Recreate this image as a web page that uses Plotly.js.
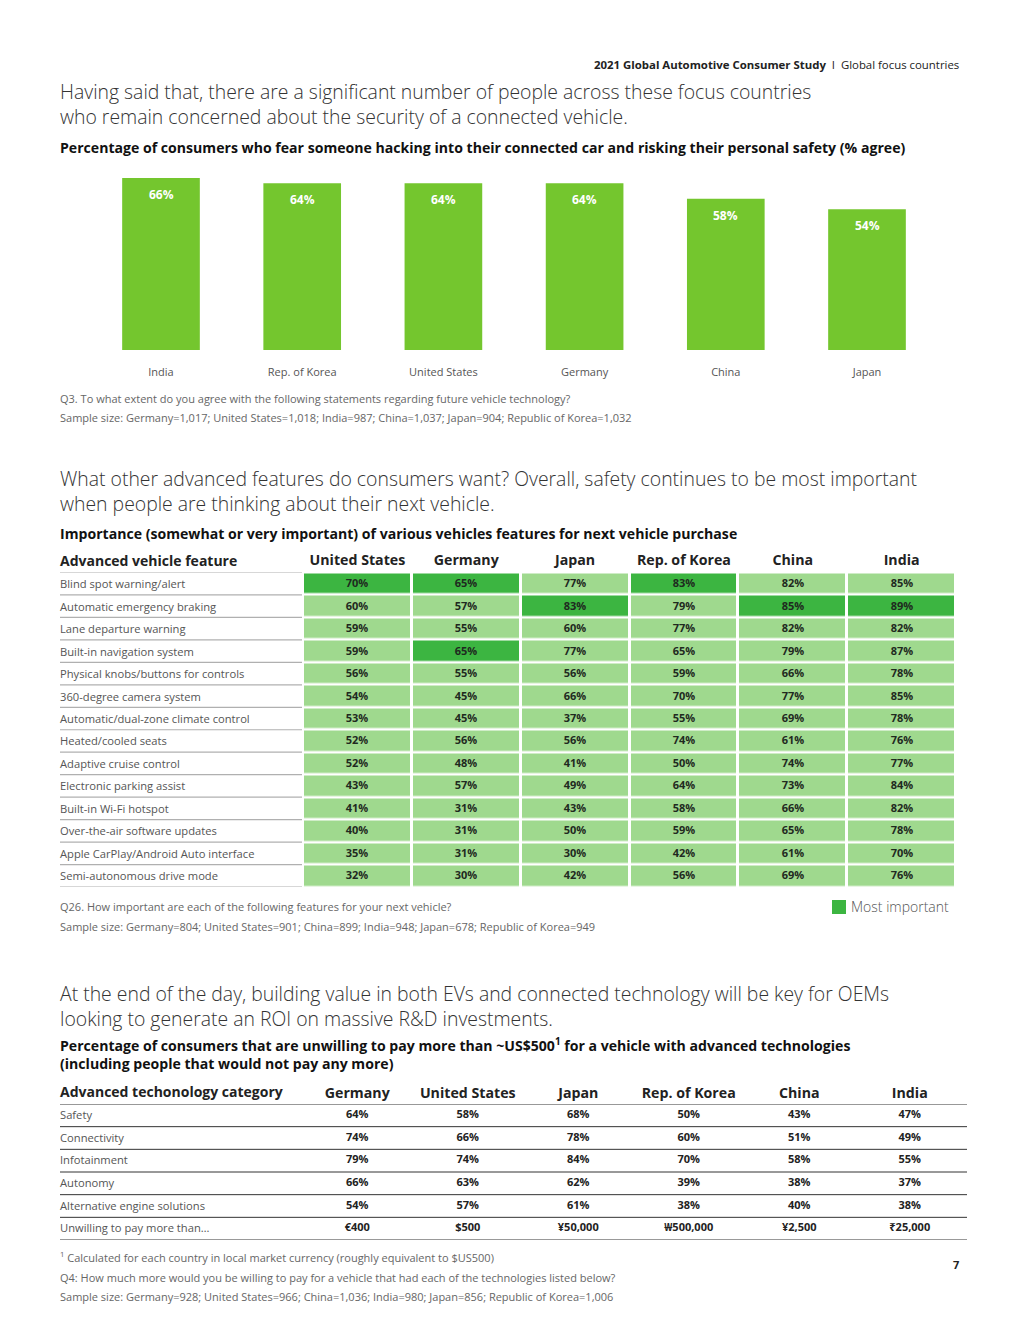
<!DOCTYPE html>
<html>
<head>
<meta charset="utf-8">
<script src="https://cdn.plot.ly/plotly-3.0.1.min.js"></script>
<style>
html,body{margin:0;padding:0;background:#fff;}
#chart{width:1020px;height:1320px;}
</style>
</head>
<body>
<div id="chart"></div>
<script>
// ---------- DATA ----------
// Chart 1: fear of hacking (% agree)
const barCountries = ["India", "Rep. of Korea", "United States", "Germany", "China", "Japan"];
const barValues = [66, 64, 64, 64, 58, 54];

// Chart 2: importance of features
const featureCountries = ["United States", "Germany", "Japan", "Rep. of Korea", "China", "India"];
const features = [
  "Blind spot warning/alert",
  "Automatic emergency braking",
  "Lane departure warning",
  "Built-in navigation system",
  "Physical knobs/buttons for controls",
  "360-degree camera system",
  "Automatic/dual-zone climate control",
  "Heated/cooled seats",
  "Adaptive cruise control",
  "Electronic parking assist",
  "Built-in Wi-Fi hotspot",
  "Over-the-air software updates",
  "Apple CarPlay/Android Auto interface",
  "Semi-autonomous drive mode"
];
const featUS      = [70, 60, 59, 59, 56, 54, 53, 52, 52, 43, 41, 40, 35, 32];
const featGermany = [65, 57, 55, 65, 55, 45, 45, 56, 48, 57, 31, 31, 31, 30];
const featJapan   = [77, 83, 60, 77, 56, 66, 37, 56, 41, 49, 43, 50, 30, 42];
const featKorea   = [83, 79, 77, 65, 59, 70, 55, 74, 50, 64, 58, 59, 42, 56];
const featChina   = [82, 85, 82, 79, 66, 77, 69, 61, 74, 73, 66, 65, 61, 69];
const featIndia   = [85, 89, 82, 87, 78, 85, 78, 76, 77, 84, 82, 78, 70, 76];

// Chart 3: unwilling to pay more than ~US$500
const payCountries = ["Germany", "United States", "Japan", "Rep. of Korea", "China", "India"];
const payCategories = ["Safety", "Connectivity", "Infotainment", "Autonomy", "Alternative engine solutions", "Unwilling to pay more than…"];
const payGermany = [64, 74, 79, 66, 54];
const payUS      = [58, 66, 74, 63, 57];
const payJapan   = [68, 78, 84, 62, 61];
const payKorea   = [50, 60, 70, 39, 38];
const payChina   = [43, 51, 58, 38, 40];
const payIndia   = [47, 49, 55, 37, 38];
const payThresholds = ["€400", "$500", "¥50,000", "₩500,000", "¥2,500", "₹25,000"];

// ---------- STYLE ----------
const FONT = "Open Sans, Noto Sans, sans-serif";
const W = 1020, H = 1320;
const px = v => v / W;
const py = v => 1 - v / H;
const BAR_GREEN = "#74c62e";
const LIGHT_GREEN = "#9fd98e";
const DARK_GREEN = "#3cb541";

const traces = [];
const annotations = [];
const shapes = [];

// ---------- Chart 1: bars ----------
traces.push({
  type: "bar",
  x: barCountries,
  y: barValues,
  xaxis: "x", yaxis: "y",
  marker: {color: BAR_GREEN},
  hoverinfo: "skip",
  showlegend: false
});
barCountries.forEach((c, i) => {
  annotations.push({
    xref: "x", yref: "y", x: c, y: barValues[i],
    text: barValues[i] + "%", showarrow: false,
    yanchor: "top", yshift: -6,
    font: {family: FONT, size: 12, color: "#ffffff", weight: "bold"}
  });
});

// ---------- Chart 2: heatmap table ----------
const featCols = [featUS, featGermany, featJapan, featKorea, featChina, featIndia];
const colMax = featCols.map(col => Math.max(...col));
const zMat = features.map((f, r) => featCols.map((col, c) => col[r] === colMax[c] ? 1 : 0));
const tMat = features.map((f, r) => featCols.map(col => col[r] + "%"));
traces.push({
  type: "heatmap",
  x: featureCountries,
  y: features,
  z: zMat,
  text: tMat,
  texttemplate: "%{text}",
  textfont: {family: FONT, size: 11, color: "#1f2a1f", weight: "bold"},
  colorscale: [[0, LIGHT_GREEN], [1, DARK_GREEN]],
  zmin: 0, zmax: 1,
  showscale: false,
  xgap: 3, ygap: 2.5,
  xaxis: "x2", yaxis: "y2",
  hoverinfo: "skip"
});
features.forEach((f, i) => {
  annotations.push({
    xref: "paper", yref: "y2", x: px(60), y: f, xshift: -2,
    text: f, showarrow: false, xanchor: "left",
    font: {family: FONT, size: 11.2, color: "#555555"}
  });
});
for (let i = 0; i <= features.length; i++) {
  shapes.push({
    type: "line", xref: "paper", yref: "y2",
    x0: px(60), x1: px(302), y0: i - 0.5, y1: i - 0.5,
    line: {color: "#b0b0b0", width: 1.2}
  });
}

// ---------- Chart 3: text table ----------
const payCols = [payGermany, payUS, payJapan, payKorea, payChina, payIndia];
const tx = [], ty = [], tt = [];
payCountries.forEach((c, ci) => {
  payCategories.forEach((cat, ri) => {
    tx.push(c); ty.push(cat);
    tt.push(ri < payCols[ci].length ? payCols[ci][ri] + "%" : payThresholds[ci]);
  });
});
traces.push({
  type: "scatter", mode: "text",
  x: tx, y: ty, text: tt,
  textposition: "middle center",
  textfont: {family: FONT, size: 11, color: "#222222", weight: "bold"},
  xaxis: "x3", yaxis: "y3",
  hoverinfo: "skip", showlegend: false
});
payCategories.forEach(cat => {
  annotations.push({
    xref: "paper", yref: "y3", x: px(60), y: cat, xshift: -2, yshift: 1,
    text: cat, showarrow: false, xanchor: "left",
    font: {family: FONT, size: 11.2, color: "#555555"}
  });
});
for (let i = 0; i <= payCategories.length; i++) {
  shapes.push({
    type: "line", xref: "paper", yref: "y3",
    x0: px(60), x1: px(967), y0: i - 0.5, y1: i - 0.5,
    line: {color: "#333333", width: 1}
  });
}

// ---------- Page texts ----------
function txt(x, y, text, size, color, opts) {
  annotations.push(Object.assign({
    xref: "paper", yref: "paper", x: px(x), y: py(y), xshift: -2,
    text: text, showarrow: false, xanchor: "left", yanchor: "middle", align: "left",
    font: {family: FONT, size: size, color: color}
  }, opts || {}));
}
const HEAD = {family: FONT, size: 19.4, color: "#333333", weight: 300};
txt(959, 65, "<b>2021 Global Automotive Consumer Study</b>  I  Global focus countries", 11.4, "#222222", {xanchor: "right", xshift: 2});

txt(60, 104.5, "Having said that, there are a significant number of people across these focus countries<br>who remain concerned about the security of a connected vehicle.", 19.4, "#333333", {font: HEAD});
txt(60, 148, "<b>Percentage of consumers who fear someone hacking into their connected car and risking their personal safety (% agree)</b>", 14.1, "#111111");
txt(60, 398, "Q3. To what extent do you agree with the following statements regarding future vehicle technology?", 11, "#666666");
txt(60, 417, "Sample size: Germany=1,017; United States=1,018; India=987; China=1,037; Japan=904; Republic of Korea=1,032", 11, "#666666");

txt(60, 490.5, "What other advanced features do consumers want? Overall, safety continues to be most important<br>when people are thinking about their next vehicle.", 19.4, "#333333", {font: HEAD});
txt(60, 533, "<b>Importance (somewhat or very important) of various vehicles features for next vehicle purchase</b>", 14.1, "#111111");
txt(60, 560, "<b>Advanced vehicle feature</b>", 14, "#222222");
txt(60, 906, "Q26. How important are each of the following features for your next vehicle?", 11, "#666666");
txt(60, 926, "Sample size: Germany=804; United States=901; China=899; India=948; Japan=678; Republic of Korea=949", 11, "#666666");
shapes.push({type: "rect", xref: "paper", yref: "paper", x0: px(832), x1: px(846), y0: py(914), y1: py(900), fillcolor: DARK_GREEN, line: {width: 0}});
txt(851, 906, "Most important", 14, "#555555", {font: {family: FONT, size: 14, color: "#555555", weight: 300}});

txt(60, 1005.5, "At the end of the day, building value in both EVs and connected technology will be key for OEMs<br>looking to generate an ROI on massive R&D investments.", 19.4, "#333333", {font: HEAD});
txt(60, 1053, "<b>Percentage of consumers that are unwilling to pay more than ~US$500<sup>1</sup> for a vehicle with advanced technologies<br>(including people that would not pay any more)</b>", 14.1, "#111111");
txt(60, 1091, "<b>Advanced techonology category</b>", 14, "#222222");
txt(60, 1257, "<sup>1</sup> Calculated for each country in local market currency (roughly equivalent to $US500)", 11, "#666666");
txt(60, 1277, "Q4: How much more would you be willing to pay for a vehicle that had each of the technologies listed below?", 11, "#666666");
txt(60, 1296, "Sample size: Germany=928; United States=966; China=1,036; India=980; Japan=856; Republic of Korea=1,006", 11, "#666666");
txt(959, 1264, "<b>7</b>", 11, "#222222", {xanchor: "right", xshift: 2});

// ---------- Layout ----------
const layout = {
  width: W, height: H,
  margin: {l: 0, r: 0, t: 0, b: 0},
  paper_bgcolor: "#ffffff", plot_bgcolor: "#ffffff",
  font: {family: FONT},
  showlegend: false,
  bargap: 0.45,
  xaxis: {
    domain: [px(90.4), px(937.6)], anchor: "y",
    type: "category", categoryorder: "array", categoryarray: barCountries,
    showgrid: false, zeroline: false, showline: false, ticks: "",
    ticklabelstandoff: 14,
    tickfont: {family: FONT, size: 11, color: "#555555"},
    fixedrange: true
  },
  yaxis: {
    domain: [py(350), py(170)], anchor: "x",
    range: [0, 69.07], visible: false, fixedrange: true
  },
  xaxis2: {
    domain: [px(303), px(956)], anchor: "y2", side: "top",
    type: "category", categoryorder: "array", categoryarray: featureCountries,
    showgrid: false, zeroline: false, showline: false, ticks: "",
    ticklabelstandoff: 4,
    tickfont: {family: FONT, size: 14.2, color: "#222222", weight: "bold"},
    fixedrange: true
  },
  yaxis2: {
    domain: [py(887), py(572.5)], anchor: "x2",
    type: "category", categoryorder: "array", categoryarray: features,
    range: [features.length - 0.5, -0.5],
    showticklabels: false, showgrid: false, zeroline: false, showline: false, ticks: "",
    fixedrange: true
  },
  xaxis3: {
    domain: [px(302), px(965)], anchor: "y3", side: "top",
    type: "category", categoryorder: "array", categoryarray: payCountries,
    range: [-0.5, payCountries.length - 0.5],
    showgrid: false, zeroline: false, showline: false, ticks: "",
    ticklabelstandoff: 2,
    tickfont: {family: FONT, size: 14.2, color: "#222222", weight: "bold"},
    fixedrange: true
  },
  yaxis3: {
    domain: [py(1240), py(1104)], anchor: "x3",
    type: "category", categoryorder: "array", categoryarray: payCategories,
    range: [payCategories.length - 0.5, -0.5],
    showticklabels: false, showgrid: false, zeroline: false, showline: false, ticks: "",
    fixedrange: true
  },
  annotations: annotations,
  shapes: shapes
};

Plotly.newPlot("chart", traces, layout, {displayModeBar: false, staticPlot: true});
</script>
</body>
</html>
